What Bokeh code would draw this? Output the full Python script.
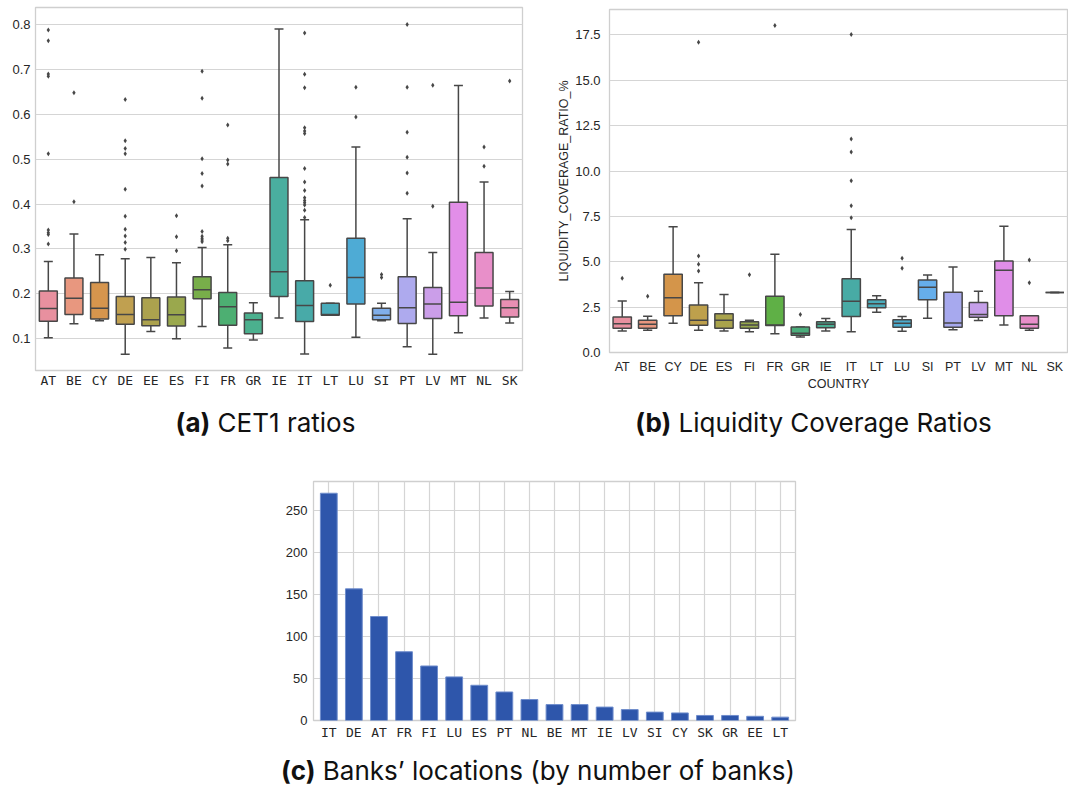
from bokeh.plotting import figure
from bokeh.models import ColumnDataSource, FactorRange, Range1d, FixedTicker, NumeralTickFormatter, Div, Spacer
from bokeh.layouts import column, row
from bokeh.transform import dodge
from bokeh.embed import file_html
from bokeh.resources import INLINE

# ---------------- (a) CET1 ratios ----------------
cats_a = ["AT", "BE", "CY", "DE", "EE", "ES", "FI", "FR", "GR", "IE",
          "IT", "LT", "LU", "SI", "PT", "LV", "MT", "NL", "SK"]
q1_a  = [0.139, 0.154, 0.144, 0.132, 0.129, 0.128, 0.189, 0.130, 0.111, 0.194,
         0.138, 0.152, 0.177, 0.142, 0.134, 0.145, 0.151, 0.173, 0.148]
med_a = [0.167, 0.190, 0.168, 0.154, 0.142, 0.153, 0.209, 0.171, 0.142, 0.249,
         0.174, 0.154, 0.236, 0.152, 0.169, 0.177, 0.181, 0.213, 0.169]
q3_a  = [0.206, 0.235, 0.225, 0.194, 0.191, 0.193, 0.238, 0.203, 0.157, 0.459,
         0.229, 0.179, 0.324, 0.168, 0.238, 0.214, 0.404, 0.292, 0.187]
lo_a  = [0.102, 0.133, 0.140, 0.065, 0.116, 0.100, 0.127, 0.079, 0.097, 0.146,
         0.066, 0.152, 0.103, 0.140, 0.082, 0.065, 0.113, 0.146, 0.135]
hi_a  = [0.272, 0.333, 0.287, 0.278, 0.281, 0.269, 0.303, 0.309, 0.180, 0.790,
         0.365, 0.179, 0.527, 0.179, 0.367, 0.292, 0.664, 0.449, 0.205]
out_a = [
    [0.788, 0.764, 0.690, 0.685, 0.512, 0.342, 0.336, 0.332, 0.311],
    [0.648, 0.405],
    [],
    [0.633, 0.541, 0.524, 0.512, 0.433, 0.373, 0.344, 0.329, 0.314, 0.299],
    [],
    [0.374, 0.327, 0.296],
    [0.696, 0.636, 0.501, 0.468, 0.440, 0.339, 0.328, 0.324, 0.320, 0.316],
    [0.576, 0.498, 0.489, 0.324, 0.318],
    [],
    [],
    [0.781, 0.689, 0.659, 0.570, 0.563, 0.557, 0.479, 0.449, 0.430, 0.414,
     0.408, 0.403, 0.398, 0.386, 0.370],
    [0.219],
    [0.660, 0.594],
    [0.243, 0.236],
    [0.800, 0.660, 0.560, 0.504, 0.469, 0.424],
    [0.665, 0.395],
    [],
    [0.527, 0.484],
    [0.674],
]
colors_a = ["#e8909f", "#e8977f", "#d6954d", "#c0a050", "#aca24e", "#9aa84d",
            "#78ae4a", "#4daf72", "#4bb08e", "#4aae9f", "#48aaa8", "#4aacbb",
            "#4eabd5", "#80aeea", "#aeaaee", "#cb9ee9", "#e28ee8", "#e88fc9", "#e88fb3"]
yticks_a = [0.1, 0.2, 0.3, 0.4, 0.5, 0.6, 0.7, 0.8]

# ---------------- (b) Liquidity coverage ratios ----------------
cats_b = ["AT", "BE", "CY", "DE", "ES", "FI", "FR", "GR", "IE", "IT",
          "LT", "LU", "SI", "PT", "LV", "MT", "NL", "SK"]
q1_b  = [1.34, 1.34, 2.03, 1.50, 1.34, 1.34, 1.49, 0.95, 1.36, 1.98,
         2.46, 1.39, 2.91, 1.39, 1.94, 2.02, 1.34, 3.30]
med_b = [1.59, 1.56, 3.02, 1.78, 1.78, 1.52, 1.52, 1.06, 1.56, 2.82,
         2.68, 1.61, 3.59, 1.63, 2.10, 4.53, 1.56, 3.30]
q3_b  = [1.96, 1.78, 4.31, 2.62, 2.14, 1.70, 3.10, 1.41, 1.70, 4.07,
         2.91, 1.80, 4.00, 3.32, 2.75, 5.04, 2.02, 3.30]
lo_b  = [1.19, 1.23, 1.61, 1.23, 1.19, 1.15, 1.04, 0.86, 1.19, 1.14,
         2.22, 1.17, 1.89, 1.26, 1.76, 1.52, 1.23, 3.30]
hi_b  = [2.84, 2.00, 6.93, 3.85, 3.19, 1.78, 5.41, 1.41, 1.87, 6.78,
         3.13, 1.98, 4.27, 4.71, 3.37, 6.96, 2.02, 3.30]
out_b = [
    [4.09], [3.10], [], [17.10, 5.32, 4.86, 4.49], [], [4.29], [18.02], [2.09], [],
    [17.52, 11.77, 11.05, 9.46, 8.08, 7.42], [], [5.19, 4.64], [], [], [], [],
    [5.10, 3.85], [],
]
colors_b = ["#e8909f", "#e8977f", "#d4954a", "#bea04c", "#a9a34c", "#96a84c",
            "#5fb046", "#4bae7c", "#49ae93", "#48aba5", "#4aabba", "#4bacce",
            "#66aeea", "#a7a9ee", "#c59fe9", "#e08ee8", "#e88fca", "#e88fb3"]
yticks_b = [0.0, 2.5, 5.0, 7.5, 10.0, 12.5, 15.0, 17.5]

# ---------------- (c) Banks' locations ----------------
cats_c = ["IT", "DE", "AT", "FR", "FI", "LU", "ES", "PT", "NL", "BE",
          "MT", "IE", "LV", "SI", "CY", "SK", "GR", "EE", "LT"]
counts_c = [271, 157, 124, 82, 65, 52, 42, 34, 25, 19, 19, 16, 13, 10, 9, 6, 6, 5, 4]
yticks_c = [0, 50, 100, 150, 200, 250]

LC = "#474747"
LW = 1.5
GRID = "#d5d5d5"
TICK_COLOR = "#262626"


def base_style(p, mono_x=True, xstand=3, ystand=5):
    p.axis.axis_line_color = None
    p.axis.major_tick_line_color = None
    p.axis.minor_tick_line_color = None
    p.axis.major_tick_out = 0
    p.axis.major_tick_in = 0
    p.axis.minor_tick_out = 0
    p.axis.minor_tick_in = 0
    p.axis.major_label_text_color = TICK_COLOR
    p.yaxis.major_label_text_font = "Liberation Sans"
    p.yaxis.major_label_text_font_size = "13px"
    p.yaxis.major_label_standoff = ystand
    if mono_x:
        p.xaxis.major_label_text_font = "DejaVu Sans Mono"
        p.xaxis.major_label_text_font_size = "13px"
    else:
        p.xaxis.major_label_text_font = "Liberation Sans"
        p.xaxis.major_label_text_font_size = "12.5px"
    p.xaxis.major_label_standoff = xstand
    p.xgrid.grid_line_color = None
    p.ygrid.grid_line_color = GRID
    p.ygrid.grid_line_width = 1.2
    p.outline_line_color = "#cfcfcf"
    p.outline_line_width = 1.3
    p.background_fill_color = "white"
    p.border_fill_color = "white"


def boxplot(p, cats, q1, med, q3, lo, hi, outs, colors, bw=0.7, cw=0.35):
    src = ColumnDataSource(dict(x=cats, q1=q1, med=med, q3=q3, lo=lo, hi=hi, c=colors))
    xr = p.x_range
    p.segment(x0="x", x1="x", y0="q3", y1="hi", source=src, line_color=LC, line_width=LW)
    p.segment(x0="x", x1="x", y0="lo", y1="q1", source=src, line_color=LC, line_width=LW)
    p.segment(x0=dodge("x", -cw / 2, range=xr), x1=dodge("x", cw / 2, range=xr),
              y0="hi", y1="hi", source=src, line_color=LC, line_width=LW)
    p.segment(x0=dodge("x", -cw / 2, range=xr), x1=dodge("x", cw / 2, range=xr),
              y0="lo", y1="lo", source=src, line_color=LC, line_width=LW)
    p.vbar(x="x", top="q3", bottom="q1", width=bw, source=src,
           fill_color="c", line_color=LC, line_width=LW)
    p.segment(x0=dodge("x", -bw / 2, range=xr), x1=dodge("x", bw / 2, range=xr),
              y0="med", y1="med", source=src, line_color=LC, line_width=LW)
    ox = [c for c, vals in zip(cats, outs) for v in vals]
    oy = [v for c, vals in zip(cats, outs) for v in vals]
    osrc = ColumnDataSource(dict(x=ox, y=oy))
    p.scatter(x="x", y="y", source=osrc, marker="diamond", size=5,
              fill_color=LC, line_color=None)


# (a)
pa = figure(x_range=FactorRange(*cats_a), y_range=Range1d(0.029, 0.838),
            width=540, height=400, min_border_left=35, min_border_right=18,
            min_border_top=7, min_border_bottom=30,
            output_backend="svg", toolbar_location=None)
base_style(pa, mono_x=True, xstand=2, ystand=5)
pa.yaxis.ticker = FixedTicker(ticks=yticks_a)
pa.yaxis.formatter = NumeralTickFormatter(format="0.0")
boxplot(pa, cats_a, q1_a, med_a, q3_a, lo_a, hi_a, out_a, colors_a, bw=0.7, cw=0.35)

# (b)
pb = figure(x_range=FactorRange(*cats_b), y_range=Range1d(0.0, 18.9),
            width=528, height=400, min_border_left=69, min_border_right=1,
            min_border_top=8, min_border_bottom=49,
            output_backend="svg", toolbar_location=None)
base_style(pb, mono_x=False, xstand=7, ystand=9)
pb.yaxis.ticker = FixedTicker(ticks=yticks_b)
pb.yaxis.formatter = NumeralTickFormatter(format="0.0")
pb.yaxis.axis_label = "LIQUIDITY_COVERAGE_RATIO_%"
pb.xaxis.axis_label = "COUNTRY"
for ax in (pb.xaxis[0], pb.yaxis[0]):
    ax.axis_label_text_font = "Liberation Sans"
    ax.axis_label_text_font_size = "12.5px"
    ax.axis_label_text_font_style = "normal"
    ax.axis_label_text_color = TICK_COLOR
pb.yaxis.axis_label_standoff = 1
pb.xaxis.axis_label_standoff = 0
boxplot(pb, cats_b, q1_b, med_b, q3_b, lo_b, hi_b, out_b, colors_b, bw=0.72, cw=0.36)

# (c)
pc = figure(x_range=FactorRange(*cats_c, range_padding=0.11, range_padding_units="absolute"),
            y_range=Range1d(0, 285),
            width=532, height=301, min_border_left=40, min_border_right=10,
            min_border_top=36, min_border_bottom=26,
            output_backend="svg", toolbar_location=None)
base_style(pc, mono_x=True, xstand=4, ystand=6)
pc.xgrid.grid_line_color = GRID
pc.xgrid.grid_line_width = 1.2
pc.yaxis.ticker = FixedTicker(ticks=yticks_c)
srcc = ColumnDataSource(dict(x=cats_c, top=counts_c))
pc.vbar(x="x", top="top", bottom=0, width=0.67, source=srcc,
        fill_color="#2e56ab", line_color="#6f8dcc", line_width=1)

CAP = {"font-family": "Inter, 'Noto Sans', sans-serif", "font-size": "26px",
       "color": "#111111", "text-align": "center", "box-sizing": "border-box"}

da = Div(text="<b>(a)</b> CET1 ratios", width=531, height=44, margin=0,
         styles=dict(CAP, **{"line-height": "44px"}))
db = Div(text="<b>(b)</b> Liquidity Coverage Ratios", width=509, height=44, margin=0,
         styles=dict(CAP, **{"line-height": "44px"}))
dc = Div(text="<b>(c)</b> Banks’ locations (by number of banks)", width=1060, height=41,
         margin=0, styles=dict(CAP, **{"line-height": "30px", "padding-top": "10px"}))

layout = column(
    row(column(pa), column(Spacer(width=1, height=1), pb)),
    row(da, Spacer(width=28, height=44), db),
    row(Spacer(width=273, height=301), pc),
    row(Spacer(width=8, height=41), dc),
)

with open("out.html", "w") as f:
    f.write(file_html(layout, INLINE))
